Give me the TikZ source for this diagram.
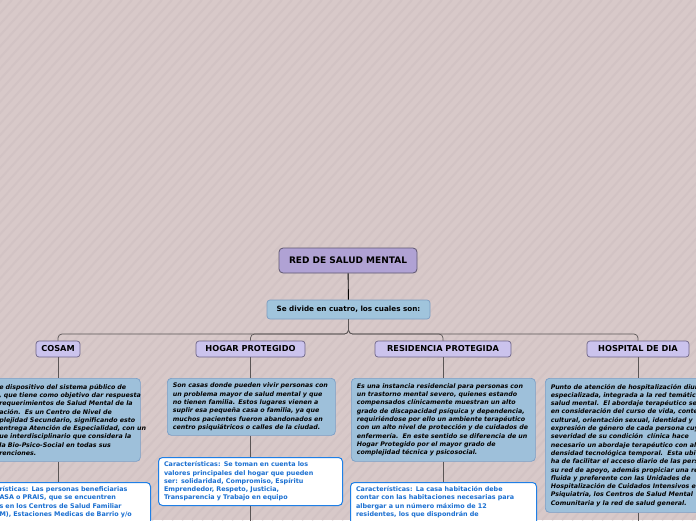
\documentclass[tikz,border=0pt]{standalone}
\usepackage{fontspec}
\setmainfont{DejaVu Sans}
\definecolor{bg}{HTML}{D8C9C9}
\definecolor{stripe}{HTML}{D2C3C4}
\definecolor{titlef}{HTML}{B0A2D4}
\definecolor{titleb}{HTML}{5E5670}
\definecolor{divf}{HTML}{A0C4DC}
\definecolor{divb}{HTML}{7C9DC2}
\definecolor{catf}{HTML}{CBC3ED}
\definecolor{catb}{HTML}{6E6588}
\definecolor{descf}{HTML}{9EC0DA}
\definecolor{descb}{HTML}{7A9EC6}
\definecolor{charb}{HTML}{1E7FE6}
\definecolor{chart}{HTML}{1A6FD1}
\definecolor{connc}{HTML}{5A5555}
\newcommand\Ln[1]{\mbox{#1}}
\tikzset{
  conn/.style={draw=connc, line width=0.7pt},
  titlebox/.style={draw=titleb, fill=titlef, rounded corners=4pt, line width=0.8pt,
    minimum width=138pt, minimum height=25pt, inner sep=0pt,
    font=\fontsize{9}{11}\selectfont\bfseries},
  divbox/.style={draw=divb, fill=divf, rounded corners=3pt, line width=0.7pt,
    minimum width=163pt, minimum height=19pt, inner sep=0pt,
    font=\fontsize{7.2}{9}\selectfont\bfseries},
  catbox/.style={draw=catb, fill=catf, rounded corners=3pt, line width=0.7pt,
    minimum height=16pt, inner sep=0pt,
    font=\fontsize{8.2}{10}\selectfont\bfseries},
  descbox/.style={draw=descb, fill=descf, rounded corners=4pt, line width=0.7pt,
    anchor=north west, align=left, inner xsep=5.5pt, inner ysep=4pt,
    font=\fontsize{6.3}{8.3}\selectfont\bfseries\itshape},
  charbox/.style={draw=charb, fill=white, rounded corners=4pt, line width=1pt,
    anchor=north west, align=left, inner xsep=5.5pt, inner ysep=4pt, text=chart,
    font=\fontsize{6.4}{8.3}\selectfont\bfseries},
}
\begin{document}
\begin{tikzpicture}[x=1pt,y=-1pt]
\useasboundingbox (0,0) rectangle (696,520);
\clip (0,0) rectangle (696,520);
\fill[bg] (0,0) rectangle (696,520);
\foreach \i in {-528,-518,...,700} \draw[stripe, line width=2pt] (\i,520) -- ++(470,-520);

\node[titlebox] (red) at (348,260.5) {RED DE SALUD MENTAL};
\node[divbox] (div) at (348.5,309.5) {Se divide en cuatro, los cuales son:};
\node[catbox, minimum width=44pt] (cosam) at (58,349) {COSAM};
\node[catbox, minimum width=109pt] (hogar) at (250.5,349) {HOGAR PROTEGIDO};
\node[catbox, minimum width=136pt] (resid) at (443,349) {RESIDENCIA PROTEGIDA};
\node[catbox, minimum width=102pt] (hosp) at (638,349) {HOSPITAL DE DIA};

\node[descbox, text width=135.5pt, minimum height=83pt] (cosamd) at (-6.5,378) {%
\Ln{e dispositivo del sistema público de}\\
\Ln{, que tiene como objetivo dar respuesta}\\
\Ln{requerimientos de Salud Mental de la}\\
\Ln{ación.\ \ Es un Centro de Nivel de}\\
\Ln{plejidad Secundario, significando esto}\\
\Ln{entrega Atención de Especialidad, con un}\\
\Ln{ue interdisciplinario que considera la}\\
\Ln{la Bio-Psico-Social en todas sus}\\
\Ln{renciones.}};

\node[descbox, text width=157pt, minimum height=57pt] (hogard) at (167,378) {%
\Ln{Son casas donde pueden vivir personas con}\\
\Ln{un problema mayor de salud mental y que}\\
\Ln{no tienen familia. Estos lugares vienen a}\\
\Ln{suplir esa pequeña casa o familia, ya que}\\
\Ln{muchos pacientes fueron abandonados en}\\
\Ln{centro psiquiátricos o calles de la ciudad.}};

\node[descbox, text width=173pt, minimum height=83pt] (residd) at (351,378) {%
\Ln{Es una instancia residencial para personas con}\\
\Ln{un trastorno mental severo, quienes estando}\\
\Ln{compensados clínicamente muestran un alto}\\
\Ln{grado de discapacidad psíquica y dependencia,}\\
\Ln{requiriéndose por ello un ambiente terapéutico}\\
\Ln{con un alto nivel de protección y de cuidados de}\\
\Ln{enfermería.\ \ En este sentido se diferencia de un}\\
\Ln{Hogar Protegido por el mayor grado de}\\
\Ln{complejidad técnica y psicosocial.}};

\node[descbox, text width=180pt, minimum height=134pt] (hospd) at (545,378) {%
\Ln{Punto de atención de hospitalización diurna}\\
\Ln{especializada, integrada a la red temática de}\\
\Ln{salud mental.\ \ El abordaje terapéutico se}\\
\Ln{en consideración del curso de vida, contexto}\\
\Ln{cultural, orientación sexual, identidad y}\\
\Ln{expresión de género de cada persona cuya}\\
\Ln{severidad de su condición\ \ clínica hace}\\
\Ln{necesario un abordaje terapéutico con alta}\\
\Ln{densidad tecnológica temporal.\ \ Esta ubicación}\\
\Ln{ha de facilitar el acceso diario de las personas}\\
\Ln{su red de apoyo, además propiciar una relación}\\
\Ln{fluida y preferente con las Unidades de}\\
\Ln{Hospitalización de Cuidados Intensivos en}\\
\Ln{Psiquiatría, los Centros de Salud Mental}\\
\Ln{Comunitaria y la red de salud general.}};

\node[charbox, text width=173pt, minimum height=48pt] (hogarc) at (158,457) {%
\Ln{Características: Se toman en cuenta los}\\
\Ln{valores principales del hogar que pueden}\\
\Ln{ser: solidaridad, Compromiso, Espíritu}\\
\Ln{Emprendedor, Respeto, Justicia,}\\
\Ln{Transparencia y Trabajo en equipo}};

\node[charbox, text width=145.5pt] (cosamc) at (-6.5,482) {%
\Ln{rísticas: Las personas beneficiarias}\\
\Ln{ASA o PRAIS, que se encuentren}\\
\Ln{s en los Centros de Salud Familiar}\\
\Ln{M), Estaciones Medicas de Barrio y/o}\\
\mbox{}};

\node[charbox, text width=175pt] (residc) at (350,482) {%
\Ln{Características: La casa habitación debe}\\
\Ln{contar con las habitaciones necesarias para}\\
\Ln{albergar a un número máximo de 12}\\
\Ln{residentes, los que dispondrán de}\\
\mbox{}};

\coordinate (bus) at (348.5,334);
\coordinate (hogarend) at (250.5,530);
\coordinate (hospend) at (638,530);

\draw[draw=black, line width=0.9pt] (red) -- (div);
\draw[conn, rounded corners=4pt] (div.south) -- (bus) -| (cosam.north);
\draw[conn, rounded corners=4pt] (div.south) -- (bus) -| (hogar.north);
\draw[conn, rounded corners=4pt] (div.south) -- (bus) -| (resid.north);
\draw[conn, rounded corners=4pt] (div.south) -- (bus) -| (hosp.north);

\draw[conn] (cosam.south) -- (cosam.south |- cosamd.north);
\draw[conn] (cosam.south |- cosamd.south) -- (cosam.south |- cosamc.north);
\draw[conn] (hogar.south) -- (hogar.south |- hogard.north);
\draw[conn] (hogar.south |- hogard.south) -- (hogar.south |- hogarc.north);
\draw[conn] (hogar.south |- hogarc.south) -- (hogarend);
\draw[conn] (resid.south) -- (resid.south |- residd.north);
\draw[conn] (resid.south |- residd.south) -- (resid.south |- residc.north);
\draw[conn] (hosp.south) -- (hosp.south |- hospd.north);
\draw[conn] (hosp.south |- hospd.south) -- (hospend);
\end{tikzpicture}
\end{document}
